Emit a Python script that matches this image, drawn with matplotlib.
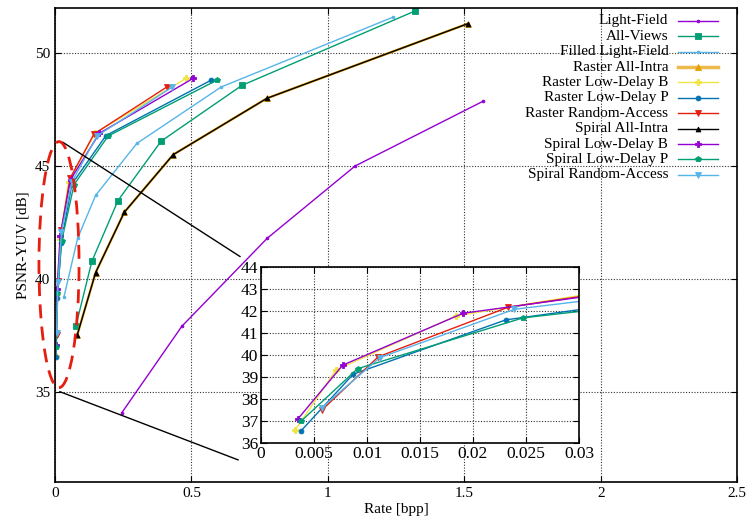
import matplotlib
matplotlib.use("Agg")
import matplotlib.pyplot as plt
from matplotlib.patches import Ellipse
from matplotlib.lines import Line2D

plt.rcParams['font.family'] = ['Liberation Serif', 'DejaVu Serif']
plt.rcParams['font.size'] = 11

# ---------------- data ----------------
lf_x = [0.245, 0.465, 0.778, 1.10, 1.569]
lf_y = [34.07, 37.9, 41.8, 45.0, 47.87]

av_x = [0.077, 0.135, 0.231, 0.389, 0.685, 1.32]
av_y = [37.93, 40.77, 43.47, 46.1, 48.57, 51.87]

flf_x = [0.033, 0.083, 0.149, 0.30, 0.609, 1.24]
flf_y = [39.2, 41.8, 43.7, 46.0, 48.5, 51.6]

ai_x = [0.082, 0.149, 0.254, 0.433, 0.777, 1.514]
ai_y = [37.53, 40.28, 42.95, 45.5, 48.0, 51.31]

rldb_x = [0.0032, 0.00707, 0.0184, 0.050, 0.147, 0.48]
rldb_y = [36.58, 39.32, 41.78, 44.3, 46.45, 48.88]

rldp_x = [0.00377, 0.0087, 0.0231, 0.062, 0.187, 0.572]
rldp_y = [36.55, 39.13, 41.6, 44.2, 46.35, 48.8]

rra_x = [0.00578, 0.01106, 0.0233, 0.055, 0.143, 0.41]
rra_y = [37.52, 39.92, 42.17, 44.45, 46.42, 48.5]

sldb_x = [0.00345, 0.0077, 0.01907, 0.057, 0.163, 0.506]
sldb_y = [37.08, 39.54, 41.9, 44.4, 46.45, 48.88]

sldp_x = [0.00377, 0.00911, 0.02472, 0.070, 0.195, 0.593]
sldp_y = [36.99, 39.38, 41.69, 44.18, 46.33, 48.8]

sra_x = [0.00572, 0.0112, 0.0239, 0.062, 0.154, 0.43]
sra_y = [37.6, 39.88, 42.08, 44.3, 46.33, 48.5]

series = [
    ("Light-Field", lf_x, lf_y, "#9400D3", ".", 1.0, 4),
    ("All-Views", av_x, av_y, "#009E73", "s", 1.0, 4),
    ("Filled Light-Field", flf_x, flf_y, "#56B4E9", ".", 1.0, 4),
    ("Raster All-Intra", ai_x, ai_y, "#E69F00", "^", 1.7, 4),
    ("Raster Low-Delay B", rldb_x, rldb_y, "#F0E442", "P", 1.0, 4),
    ("Raster Low-Delay P", rldp_x, rldp_y, "#0072B2", "o", 1.0, 3.5),
    ("Raster Random-Access", rra_x, rra_y, "#E51E10", "v", 1.0, 4),
    ("Spiral All-Intra", ai_x, ai_y, "black", "^", 1.0, 3.5),
    ("Spiral Low-Delay B", sldb_x, sldb_y, "#9400D3", "P", 1.0, 4),
    ("Spiral Low-Delay P", sldp_x, sldp_y, "#009E73", "p", 1.0, 4),
    ("Spiral Random-Access", sra_x, sra_y, "#56B4E9", "v", 1.0, 4),
]

main_xticks = [0, 0.5, 1, 1.5, 2, 2.5]
main_xlabels = ["0", "0.5", "1", "1.5", "2", "2.5"]
main_yticks = [35, 40, 45, 50]
inset_xticks = [0, 0.005, 0.01, 0.015, 0.02, 0.025, 0.03]
inset_xlabels = ["0", "0.005", "0.01", "0.015", "0.02", "0.025", "0.03"]
inset_yticks = [36, 37, 38, 39, 40, 41, 42, 43, 44]

# ---------------- figure ----------------
fig = plt.figure(figsize=(7.48, 5.19), dpi=100)
ax = fig.add_axes([0.0735, 0.0713, 0.912, 0.9133])


def style_axes(a):
    a.tick_params(direction='in', top=True, right=True, length=4, width=0.8)
    a.grid(True, linestyle=(0, (1, 1.5)), color='#333333', linewidth=0.8)
    for s in a.spines.values():
        s.set_linewidth(1.2)


for name, x, y, c, m, lw, ms in series:
    ax.plot(x, y, color=c, marker=m, linewidth=lw, markersize=ms, markeredgewidth=0.6)

ax.set_xlim(0, 2.5)
ax.set_ylim(31, 52)
ax.set_xticks(main_xticks)
ax.set_xticklabels(main_xlabels)
ax.set_yticks(main_yticks)
style_axes(ax)
ax.set_xlabel("Rate [bpp]", labelpad=2)
ax.set_ylabel("PSNR-YUV [dB]", labelpad=4)

# zoom ellipse
ell = Ellipse((0.0147, 40.63), 0.147, 10.9, fill=False, edgecolor='#E51E10',
              linestyle=(0, (5, 3)), linewidth=2.0, clip_on=False, zorder=5)
ax.add_patch(ell)

# connector lines
ax.plot([0.029, 0.678], [46.05, 40.99], color='black', linewidth=1.0, clip_on=False)
ax.plot([0.018, 0.671], [35.0, 31.98], color='black', linewidth=1.0, clip_on=False)

# manual gnuplot-like legend
lx_text = 0.899
lx0, lx1 = 0.913, 0.972
ly0 = 0.973
dy = 0.0325
for i, (name, x, y, c, m, lw, ms) in enumerate(series):
    yy = ly0 - i * dy
    ax.text(lx_text, yy, name, transform=ax.transAxes, ha='right', va='center', fontsize=11)
    ax.add_line(Line2D([lx0, lx1], [yy, yy], transform=ax.transAxes, color=c,
                       linewidth=(2.5 if lw > 1.2 else lw), alpha=(0.7 if lw > 1.2 else 1.0)))
    ax.add_line(Line2D([(lx0 + lx1) / 2], [yy], transform=ax.transAxes, color=c, marker=m,
                       markersize=ms, markeredgewidth=0.6, linestyle='none'))

# inset
axi = fig.add_axes([0.349, 0.1464, 0.425, 0.339])
for name, x, y, c, m, lw, ms in series:
    axi.plot(x, y, color=c, marker=m, linewidth=lw, markersize=ms, markeredgewidth=0.6)
axi.set_xlim(0, 0.03)
axi.set_ylim(36, 44)
axi.set_xticks(inset_xticks)
axi.set_xticklabels(inset_xlabels)
axi.set_yticks(inset_yticks)
style_axes(axi)
axi.tick_params(pad=2, labelsize=12.5)

fig.savefig("out.png", dpi=100)
